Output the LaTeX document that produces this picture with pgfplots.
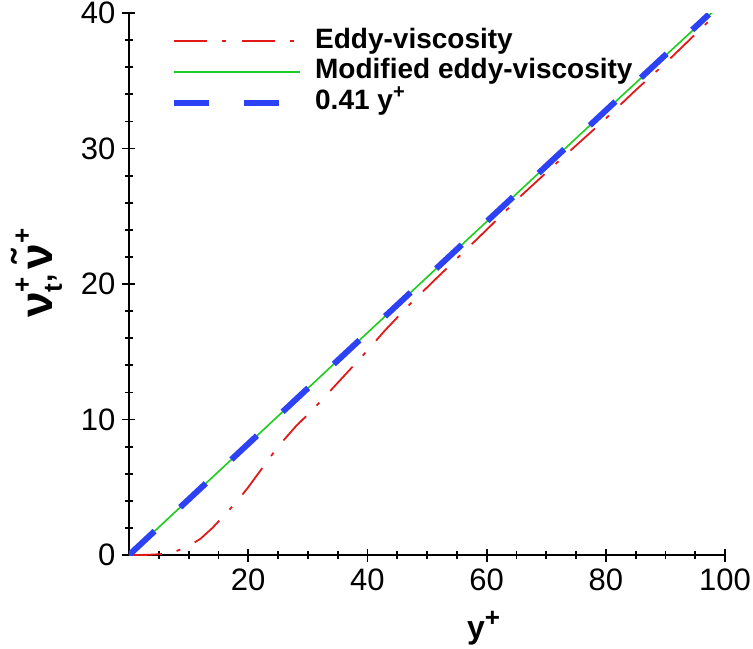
\documentclass[border=0pt]{standalone}
\usepackage{fontspec}
\setmainfont{Liberation Sans}
\usepackage{pgfplots}
\pgfplotsset{compat=1.18}

\definecolor{eddyred}{RGB}{225,25,25}
\definecolor{modgreen}{RGB}{30,205,30}
\definecolor{linblue}{RGB}{45,65,245}

\newcommand{\lblbig}[1]{{\fontsize{23}{23}\selectfont #1}}
\newcommand{\lblsm}[1]{{\fontsize{13}{13}\selectfont #1}}

\begin{document}
\begin{tikzpicture}
\begin{axis}[
    scale only axis,
    width=298pt, height=271pt,
    xmin=0, xmax=100,
    ymin=0, ymax=40,
    axis lines=left,
    axis line style={-, line width=1pt},
    xtick={20,40,60,80,100},
    ytick={0,10,20,30,40},
    minor xtick={5,10,...,95},
    minor ytick={2,4,...,38},
    major tick length=6.5pt,
    minor tick length=4pt,
    tick style={black, line width=0.9pt},
    tick label style={font=\fontsize{15.5}{15.5}\selectfont},
    /pgf/number format/assume math mode=true,
    xlabel={\bfseries\fontsize{16}{16}\selectfont y\raisebox{6pt}{\lblsm{+}}},
    xlabel style={at={(ticklabel cs:0.595)}, anchor=north, yshift=-3.5pt},
    ylabel={\bfseries\lblbig{ν}\rlap{\raisebox{11pt}{\lblsm{+}}}\raisebox{-4.5pt}{\lblsm{t}}\hspace{0.5pt}{\fontsize{15}{15}\selectfont ,}\hspace{2.5pt}\lblbig{ν̃}\raisebox{11pt}{\lblsm{+}}},
    ylabel style={at={(ticklabel cs:0.52)}, anchor=south, yshift=2.5pt},
    legend style={draw=none, fill=none, at={(0.06,0.984)}, anchor=north west,
        font=\bfseries\fontsize{14}{14}\selectfont, row sep=0pt,
        nodes={inner sep=1pt, text height=10pt, text depth=3.3pt}},
    legend cell align=left,
    legend image code/.code={\draw[#1] (0pt,0pt) -- (63pt,0pt); \path (68pt,0pt);},
]

% eddy viscosity (dash-dot)
\addplot[color=eddyred, draw=eddyred, line width=0.9pt,
    dash pattern=on 16.5pt off 7.5pt on 2pt off 8pt]
coordinates {
(0,0)(3,0.01)(6,0.08)(8,0.3)(10,0.65)(12,1.2)(14,2.0)(15.5,2.7)(18,3.9)
(20,5.0)(22.5,6.5)(25,8.0)(28,9.5)(31,10.8)(35,12.7)(39,14.6)(43,16.6)
(47,18.45)(51.3,20.3)(60,24.0)(66,26.6)(72.3,29.15)(79.5,32.0)(85,34.3)
(90,36.3)(98,39.7)
};
\addlegendentry{Eddy-viscosity}

% modified eddy viscosity
\addplot[color=modgreen, draw=modgreen, line width=0.8pt]
coordinates {(0,0)(20,8.2)(40,16.4)(60,24.6)(80,32.8)(98,40.1)};
\addlegendentry{Modified eddy-viscosity}

% log-law slope
\addplot[color=linblue, draw=linblue, line width=3pt, dash pattern=on 17.5pt off 17.5pt]
coordinates {(0,0)(97.3,39.9)};
\addlegendentry{0.41 y\raisebox{5.5pt}[0pt][0pt]{\fontsize{10}{10}\selectfont +}}

\end{axis}
\pgfresetboundingbox
\path ([xshift=-64.5pt,yshift=-46.5pt]current axis.south west)
    rectangle ([xshift=14pt,yshift=6.5pt]current axis.north east);
\end{tikzpicture}
\end{document}
